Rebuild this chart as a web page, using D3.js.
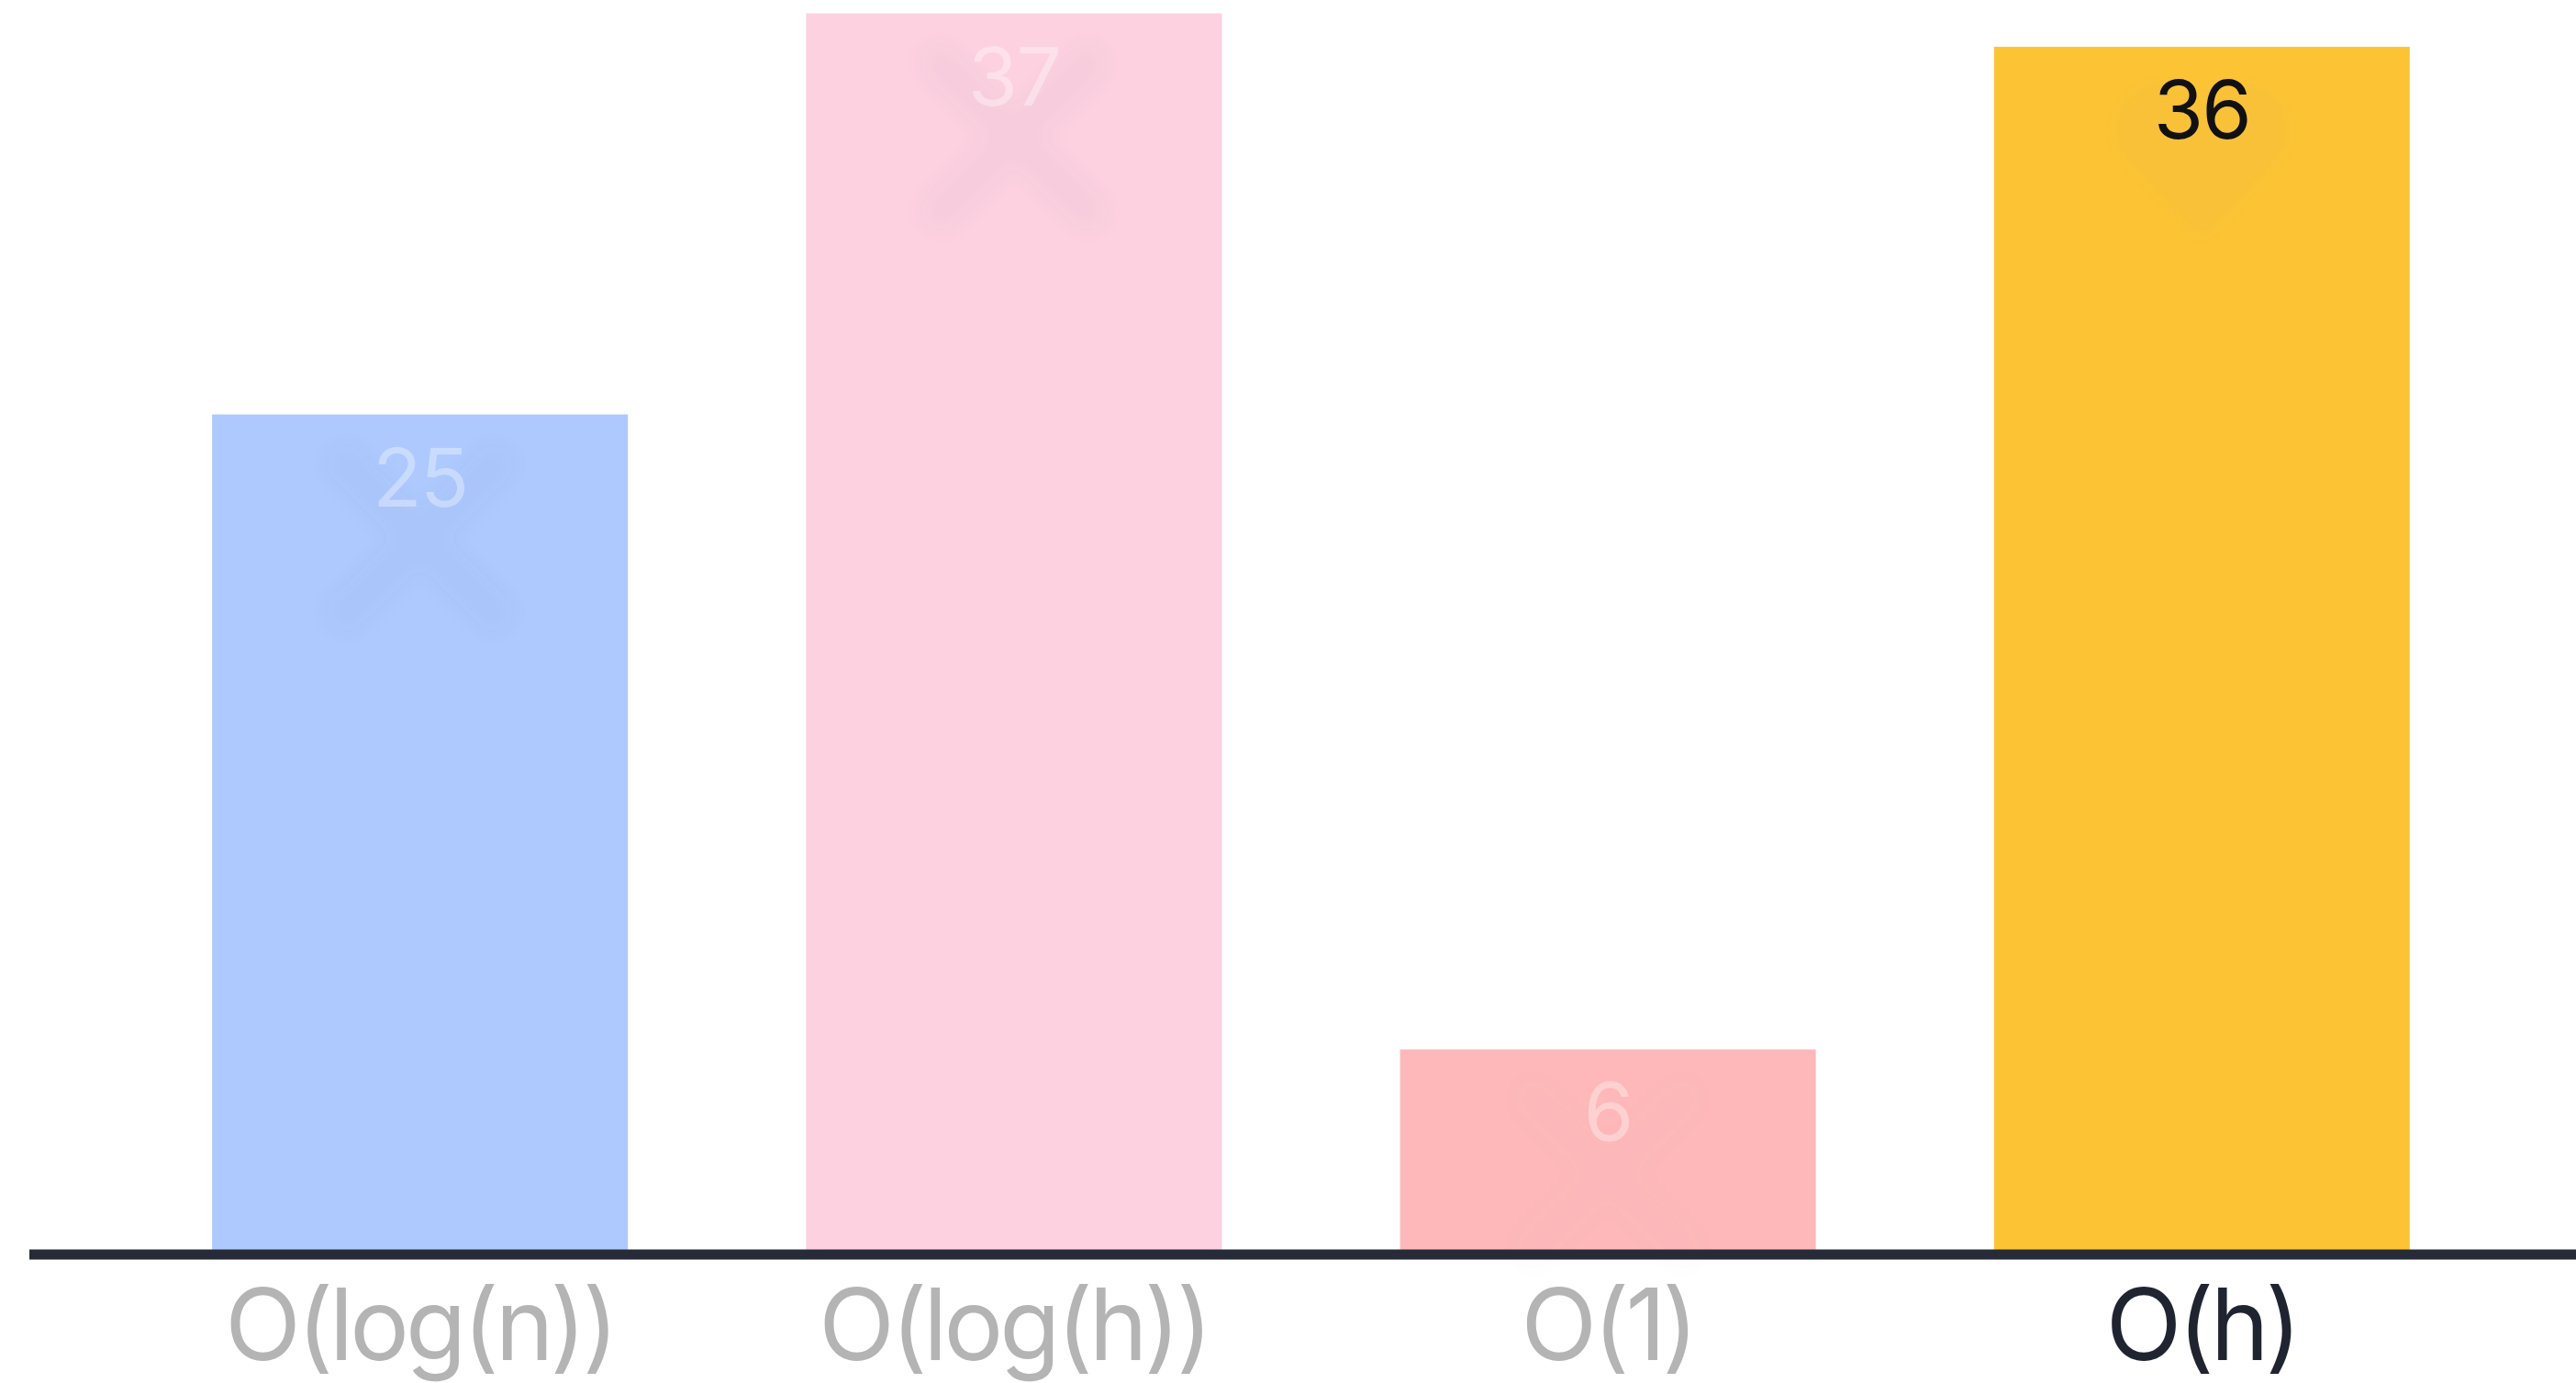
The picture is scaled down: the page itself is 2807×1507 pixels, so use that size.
<!DOCTYPE html>
<html>
<head>
<meta charset="utf-8">
<script src="https://cdn.jsdelivr.net/npm/d3@7"></script>
<style>
  html, body { margin: 0; padding: 0; background: #ffffff; }
  svg { display: block; }
</style>
</head>
<body>
<svg id="chart" width="2807" height="1507"></svg>
<script>
// ---- data ----
const categories = ["O(log(n))", "O(log(h))", "O(1)", "O(h)"];
const values = [25, 37, 6, 36];
const barColors = ["#adc9fd", "#fdd1df", "#feb8b9", "#fcc435"];
const icons = ["x", "x", "x", "heart"];
const highlighted = "O(h)";

// ---- layout ----
const W = 2807, H = 1507;
const baseline = 1362;
const svg = d3.select("#chart");

const x = d3.scaleBand()
  .domain(categories)
  .range([37, 2820])
  .paddingInner(0.3)
  .paddingOuter(0.3);

const y = d3.scaleLinear()
  .domain([0, 37.4])
  .range([baseline, 0]);

const defs = svg.append("defs");
defs.append("filter").attr("id", "blur")
  .attr("x", "-50%").attr("y", "-50%").attr("width", "200%").attr("height", "200%")
  .append("feGaussianBlur").attr("stdDeviation", 10);

const data = categories.map((c, i) => ({ cat: c, v: values[i], color: barColors[i], icon: icons[i] }));

// bars
svg.append("g").selectAll("rect").data(data).join("rect")
  .attr("x", d => x(d.cat))
  .attr("y", d => y(d.v))
  .attr("width", x.bandwidth())
  .attr("height", d => baseline - y(d.v))
  .attr("fill", d => d.color);

// faint watermark icons
const iconG = svg.append("g").attr("filter", "url(#blur)");
data.forEach(d => {
  const cx = x(d.cat) + x.bandwidth() / 2;
  const top = y(d.v);
  const g = iconG.append("g");
  if (d.icon === "x") {
    const cy = top + 135, s = 80;
    const op = d.cat === "O(1)" ? 0.02 : 0.04;
    g.append("path")
      .attr("d", `M${cx - s},${cy - s}L${cx + s},${cy + s}M${cx + s},${cy - s}L${cx - s},${cy + s}`)
      .attr("stroke", "#6060a0").attr("stroke-opacity", op)
      .attr("stroke-width", 42).attr("stroke-linecap", "round").attr("fill", "none");
  } else {
    const cy = top + 115, s = 80;
    g.append("path")
      .attr("d", `M${cx},${cy + s * 1.2} L${cx - s * 1.1},${cy} A${s * 0.58},${s * 0.58} 0 0 1 ${cx},${cy - s * 0.6} A${s * 0.58},${s * 0.58} 0 0 1 ${cx + s * 1.1},${cy} Z`)
      .attr("fill", "#e0b040").attr("fill-opacity", 0.15);
  }
});

// value labels
svg.append("g").selectAll("text").data(data).join("text")
  .attr("x", d => x(d.cat) + x.bandwidth() / 2)
  .attr("y", d => y(d.v) + 100)
  .attr("text-anchor", "middle")
  .attr("font-family", "Inter, 'Open Sans', sans-serif")
  .attr("font-size", 88)
  .attr("letter-spacing", -2)
  .attr("fill", d => d.cat === highlighted ? "#111111" : "#ffffff")
  .attr("fill-opacity", d => d.cat === highlighted ? 1 : 0.35)
  .text(d => d.v);

// x axis
const xAxis = d3.axisBottom(x).tickSize(0).tickPadding(0);
const axisG = svg.append("g")
  .attr("transform", `translate(0,${baseline + 5})`)
  .call(xAxis);
axisG.select(".domain").remove();
axisG.append("line")
  .attr("x1", 32).attr("x2", W)
  .attr("y1", 0).attr("y2", 0)
  .attr("stroke", "#262b37").attr("stroke-width", 11);
axisG.selectAll(".tick text")
  .attr("dy", 0)
  .attr("y", 115)
  .attr("font-family", "Inter, 'Open Sans', sans-serif")
  .attr("font-size", 108)
  .attr("letter-spacing", -4)
  .attr("fill", d => d === highlighted ? "#1f2430" : "#b4b4b4");
</script>
</body>
</html>
